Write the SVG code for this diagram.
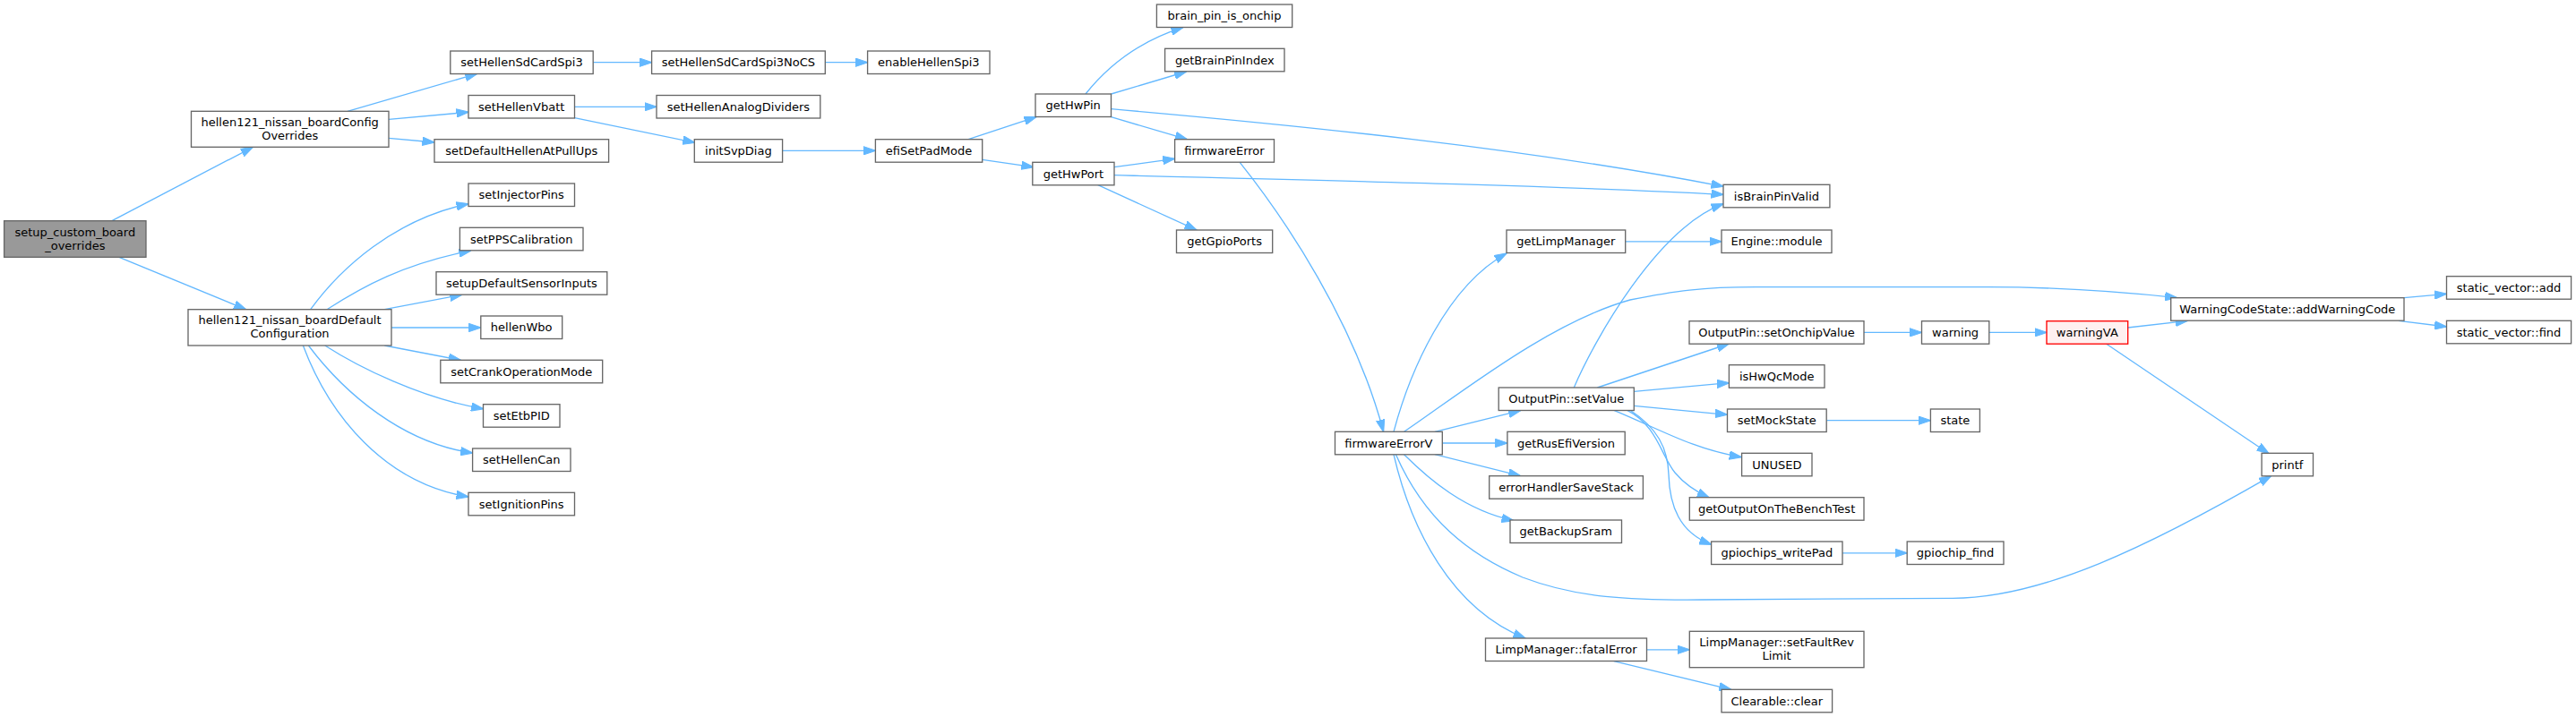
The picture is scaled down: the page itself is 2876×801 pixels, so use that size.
<svg xmlns="http://www.w3.org/2000/svg" width="2876" height="801" viewBox="0 0 2876 801">
<style>
.node rect{fill:#ffffff;stroke:#666666;stroke-width:1.33}
.root rect{fill:#999999}
.trunc rect{fill:#fff0f0;stroke:#ff0000}
text{font-family:"DejaVu Sans","Liberation Sans",sans-serif;font-size:13px;text-anchor:middle;fill:#000000}
.edges path{fill:none;stroke:#63b8ff;stroke-width:1.33;marker-end:url(#arr)}
</style>
<defs>
<marker id="arr" markerUnits="userSpaceOnUse" markerWidth="14" markerHeight="10" viewBox="0 0 14 10" refX="13.5" refY="5" orient="auto">
<path d="M0,0.3 L14,5 L0,9.7 z" fill="#63b8ff" stroke="#63b8ff" stroke-width="1"/>
</marker>
</defs>
<rect width="2876" height="801" fill="#ffffff"/>
<g class="edges">
<path d="M125,246.7 L282.4,164.3"/>
<path d="M133,287.3 L274.6,345.7"/>
<path d="M388,124.3 L532.7,82.3"/>
<path d="M434,133.3 L523,125.3"/>
<path d="M434,154.3 L485,159"/>
<path d="M346.7,345.7 C380,300 440,245 523,227.7"/>
<path d="M365,345.7 C405,320 450,295 525.8,280"/>
<path d="M429.3,345.7 L515.7,329.3"/>
<path d="M437,366 L536.8,366"/>
<path d="M429.3,386 L514.3,402.3"/>
<path d="M362.8,386 C400,410 470,445 539.5,456.7"/>
<path d="M344.4,386 C385,440 450,495 527.6,506"/>
<path d="M338.4,386 C368,465 430,540 523,555"/>
<path d="M662.2,69.7 L727.6,69.7"/>
<path d="M921.3,69.7 L968.6,69.7"/>
<path d="M641.5,119.3 L733,119.3"/>
<path d="M641.5,131.7 L775.8,159.3"/>
<path d="M873.6,168.3 L977.4,168.3"/>
<path d="M1081.1,155.7 L1156.9,130.7"/>
<path d="M1096.7,178.3 L1153.7,186.7"/>
<path d="M1212,105 C1240,70 1275,45 1320.8,30.7"/>
<path d="M1240.5,105 L1324.5,80"/>
<path d="M1240.5,121.7 C1450,140 1700,165 1924,208.3"/>
<path d="M1240.5,130.7 L1325.4,155.7"/>
<path d="M1244,186.7 L1311.6,177.3"/>
<path d="M1244,195.7 C1500,202 1750,208 1924,217.3"/>
<path d="M1225.8,206.7 L1336,257"/>
<path d="M1384.2,181.3 C1435,245 1512,360 1544.6,482.3"/>
<path d="M1556,482.3 C1574,415 1615,320 1682,283"/>
<path d="M1567.6,482.3 C1630,440 1730,360 1820,335 C1870,325 1900,320.7 1960,320.7 L2220,320.7 C2290,320.7 2370,326 2430.6,332.7"/>
<path d="M1602,482.3 L1697.6,458.7"/>
<path d="M1610.3,495 L1682.9,495"/>
<path d="M1602,507.7 L1697.6,531.7"/>
<path d="M1567.6,507.7 C1595,535 1635,570 1690,581.7"/>
<path d="M1558.4,507.7 C1590,580 1640,620 1700,645 C1760,668 1820,670.7 1900,670 L2180,668.3 C2280,668.3 2400,610 2535.5,531.7"/>
<path d="M1556,507.7 C1575,590 1620,680 1703,713"/>
<path d="M1814.7,269.8 L1922,269.8"/>
<path d="M1757.3,433 C1780,380 1850,255 1924,227.7"/>
<path d="M1783.4,433 L1930.4,384"/>
<path d="M1824.3,437.3 L1930.4,427.7"/>
<path d="M1824.3,453.3 L1928.5,463.3"/>
<path d="M1801.8,458.3 C1850,478 1890,502 1944.3,510.7"/>
<path d="M1816.7,458.3 C1850,475 1855,510 1870,528 C1880,540 1893,549 1908.3,556"/>
<path d="M1820,458.3 C1850,478 1862,500 1863,530 C1864,565 1875,595 1910.7,608.3"/>
<path d="M2081,371.4 L2145.5,371.4"/>
<path d="M2220.8,371.4 L2285,371.4"/>
<path d="M2375.7,366 L2442.5,358.3"/>
<path d="M2351.4,384 L2533,506.7"/>
<path d="M2684,332.7 L2731.5,328.3"/>
<path d="M2678,358.3 L2731.5,365"/>
<path d="M2039.2,469.7 L2155.4,469.7"/>
<path d="M2057,617.8 L2129.2,617.8"/>
<path d="M1838.5,725.8 L1886.3,725.8"/>
<path d="M1801.8,738.7 L1932.7,770.3"/>
</g>
<g id="n_setup" class="node root"><rect x="4.6" y="246.7" width="158.4" height="40.6"/><text x="83.8" y="263.5">setup_custom_board</text><text x="83.8" y="278.5">_overrides</text></g>
<g id="n_cfgover" class="node"><rect x="213.5" y="124.3" width="220.5" height="40"/><text x="323.7" y="140.8">hellen121_nissan_boardConfig</text><text x="323.7" y="155.8">Overrides</text></g>
<g id="n_defcfg" class="node"><rect x="210" y="345.7" width="227" height="40.3"/><text x="323.5" y="362.3">hellen121_nissan_boardDefault</text><text x="323.5" y="377.3">Configuration</text></g>
<g id="n_sdspi3" class="node"><rect x="502.8" y="57" width="159.4" height="25.5"/><text x="582.5" y="74.2">setHellenSdCardSpi3</text></g>
<g id="n_vbatt" class="node"><rect x="523" y="106.5" width="118.5" height="25.5"/><text x="582.2" y="123.7">setHellenVbatt</text></g>
<g id="n_pullups" class="node"><rect x="485" y="155.7" width="194.6" height="25.5"/><text x="582.3" y="172.9">setDefaultHellenAtPullUps</text></g>
<g id="n_inj" class="node"><rect x="523" y="205" width="118.5" height="25.5"/><text x="582.2" y="222.2">setInjectorPins</text></g>
<g id="n_pps" class="node"><rect x="513.4" y="254.3" width="137.6" height="25.5"/><text x="582.2" y="271.5">setPPSCalibration</text></g>
<g id="n_sensor" class="node"><rect x="487" y="303.7" width="190.8" height="25.5"/><text x="582.4" y="320.9">setupDefaultSensorInputs</text></g>
<g id="n_wbo" class="node"><rect x="536.8" y="353" width="90.9" height="25.5"/><text x="582.2" y="370.2">hellenWbo</text></g>
<g id="n_crank" class="node"><rect x="491.8" y="402.3" width="180.9" height="25.5"/><text x="582.2" y="419.5">setCrankOperationMode</text></g>
<g id="n_etb" class="node"><rect x="539.5" y="451.7" width="85.5" height="25.5"/><text x="582.2" y="468.9">setEtbPID</text></g>
<g id="n_can" class="node"><rect x="527.6" y="501" width="109.4" height="25.5"/><text x="582.3" y="518.2">setHellenCan</text></g>
<g id="n_ign" class="node"><rect x="523" y="550.3" width="118.5" height="25.5"/><text x="582.2" y="567.5">setIgnitionPins</text></g>
<g id="n_nocs" class="node"><rect x="727.6" y="57" width="193.7" height="25.5"/><text x="824.4" y="74.2">setHellenSdCardSpi3NoCS</text></g>
<g id="n_enspi" class="node"><rect x="968.6" y="57" width="136.4" height="25.5"/><text x="1036.8" y="74.2">enableHellenSpi3</text></g>
<g id="n_adiv" class="node"><rect x="733" y="106.5" width="182.8" height="25.5"/><text x="824.4" y="123.7">setHellenAnalogDividers</text></g>
<g id="n_svp" class="node"><rect x="775.3" y="155.7" width="98.3" height="25.5"/><text x="824.4" y="172.9">initSvpDiag</text></g>
<g id="n_efipad" class="node"><rect x="977.4" y="155.7" width="119.3" height="25.5"/><text x="1037" y="172.9">efiSetPadMode</text></g>
<g id="n_hwpin" class="node"><rect x="1156" y="105" width="84.5" height="25.5"/><text x="1198.2" y="122.2">getHwPin</text></g>
<g id="n_hwport" class="node"><rect x="1152.8" y="181.3" width="91.2" height="25.5"/><text x="1198.4" y="198.5">getHwPort</text></g>
<g id="n_onchip" class="node"><rect x="1291.4" y="5" width="151.3" height="25.5"/><text x="1367" y="22.2">brain_pin_is_onchip</text></g>
<g id="n_pinidx" class="node"><rect x="1300.6" y="54.3" width="133.4" height="25.5"/><text x="1367.3" y="71.5">getBrainPinIndex</text></g>
<g id="n_fwerr" class="node"><rect x="1311.6" y="155.7" width="110.9" height="25.5"/><text x="1367" y="172.9">firmwareError</text></g>
<g id="n_gpioports" class="node"><rect x="1313.5" y="257" width="107.2" height="25.5"/><text x="1367.1" y="274.2">getGpioPorts</text></g>
<g id="n_pinvalid" class="node"><rect x="1924" y="206.3" width="118.9" height="25.5"/><text x="1983.4" y="223.5">isBrainPinValid</text></g>
<g id="n_limp" class="node"><rect x="1682" y="257" width="132.7" height="25.5"/><text x="1748.3" y="274.2">getLimpManager</text></g>
<g id="n_module" class="node"><rect x="1922" y="257" width="123" height="25.5"/><text x="1983.5" y="274.2">Engine::module</text></g>
<g id="n_onchipval" class="node"><rect x="1886" y="358.7" width="195" height="25.5"/><text x="1983.5" y="375.9">OutputPin::setOnchipValue</text></g>
<g id="n_fwerrv" class="node"><rect x="1490.5" y="482.3" width="119.8" height="25.5"/><text x="1550.4" y="499.5">firmwareErrorV</text></g>
<g id="n_setval" class="node"><rect x="1673.2" y="433" width="151.1" height="25.5"/><text x="1748.7" y="450.2">OutputPin::setValue</text></g>
<g id="n_rusefi" class="node"><rect x="1682.9" y="482.3" width="131.3" height="25.5"/><text x="1748.5" y="499.5">getRusEfiVersion</text></g>
<g id="n_savestack" class="node"><rect x="1662.7" y="531.7" width="171.7" height="25.5"/><text x="1748.5" y="548.9">errorHandlerSaveStack</text></g>
<g id="n_sram" class="node"><rect x="1686" y="581" width="124.5" height="25.5"/><text x="1748.2" y="598.2">getBackupSram</text></g>
<g id="n_qc" class="node"><rect x="1930.4" y="407.7" width="106.6" height="25.5"/><text x="1983.7" y="424.9">isHwQcMode</text></g>
<g id="n_mock" class="node"><rect x="1928.5" y="457" width="110.7" height="25.5"/><text x="1983.8" y="474.2">setMockState</text></g>
<g id="n_unused" class="node"><rect x="1944.6" y="506.3" width="78.4" height="25.5"/><text x="1983.8" y="523.5">UNUSED</text></g>
<g id="n_bench" class="node"><rect x="1886.3" y="555.7" width="194.7" height="25.5"/><text x="1983.6" y="572.9">getOutputOnTheBenchTest</text></g>
<g id="n_writepad" class="node"><rect x="1910.6" y="605" width="146.4" height="25.5"/><text x="1983.8" y="622.2">gpiochips_writePad</text></g>
<g id="n_fatal" class="node"><rect x="1658.5" y="713" width="180" height="25.5"/><text x="1748.5" y="730.2">LimpManager::fatalError</text></g>
<g id="n_revlimit" class="node"><rect x="1886.3" y="705.3" width="194.7" height="40.4"/><text x="1983.6" y="722">LimpManager::setFaultRev</text><text x="1983.6" y="737">Limit</text></g>
<g id="n_clear" class="node"><rect x="1922" y="770.3" width="123.6" height="25.5"/><text x="1983.8" y="787.5">Clearable::clear</text></g>
<g id="n_addwarn" class="node"><rect x="2423.7" y="332.7" width="260.3" height="25.5"/><text x="2553.8" y="349.9">WarningCodeState::addWarningCode</text></g>
<g id="n_vadd" class="node"><rect x="2731.5" y="308.7" width="139.1" height="25.5"/><text x="2801" y="325.9">static_vector::add</text></g>
<g id="n_vfind" class="node"><rect x="2731.5" y="358.3" width="139.1" height="25.5"/><text x="2801" y="375.5">static_vector::find</text></g>
<g id="n_warning" class="node"><rect x="2145.5" y="358.7" width="75.3" height="25.5"/><text x="2183.1" y="375.9">warning</text></g>
<g id="n_warnva" class="node trunc"><rect x="2285" y="358.7" width="90.7" height="25.5"/><text x="2330.3" y="375.9">warningVA</text></g>
<g id="n_state" class="node"><rect x="2155.4" y="457" width="55" height="25.5"/><text x="2182.9" y="474.2">state</text></g>
<g id="n_printf" class="node"><rect x="2525.1" y="506.3" width="57.4" height="25.5"/><text x="2553.8" y="523.5">printf</text></g>
<g id="n_chipfind" class="node"><rect x="2129.2" y="605" width="107.8" height="25.5"/><text x="2183.1" y="622.2">gpiochip_find</text></g>
</svg>
